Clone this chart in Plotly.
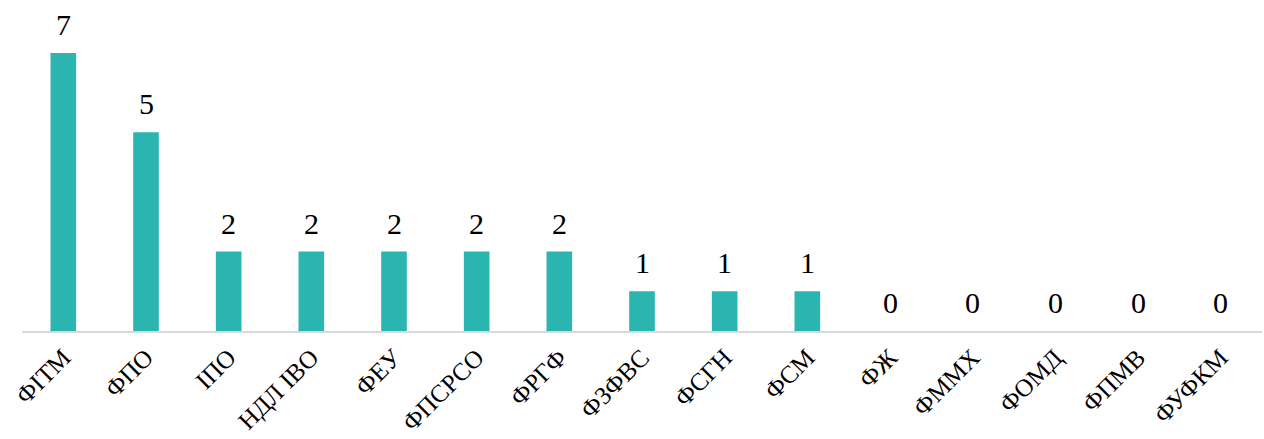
import plotly.graph_objects as go

categories = ["ФІТМ", "ФПО", "ІПО", "НДЛ ІВО", "ФЕУ", "ФПСРСО", "ФРГФ", "ФЗФВС",
              "ФСГН", "ФСМ", "ФЖ", "ФММХ", "ФОМД", "ФПМВ", "ФУФКМ"]
values = [7, 5, 2, 2, 2, 2, 2, 1, 1, 1, 0, 0, 0, 0, 0]

bar_color = "#2BB5B0"
font_family = "Liberation Serif, Times New Roman, serif"

fig = go.Figure(go.Bar(
    x=categories, y=values,
    marker=dict(color=bar_color, line=dict(width=0)),
    width=0.31,
    hoverinfo="skip",
))

for c, v in zip(categories, values):
    fig.add_annotation(x=c, y=v, text=str(v), showarrow=False,
                       yanchor="bottom", yshift=10,
                       font=dict(family=font_family, size=30, color="black"))

fig.update_layout(
    width=1264, height=439,
    margin=dict(l=22, r=2, t=10, b=108),
    plot_bgcolor="white", paper_bgcolor="white",
    showlegend=False,
    xaxis=dict(showline=True, linecolor="#d9d9d9", linewidth=2, ticks="",
               tickangle=-45, tickfont=dict(family=font_family, size=25, color="black"),
               showgrid=False, automargin=False),
    yaxis=dict(range=[0, 8.08], visible=False, showgrid=False, zeroline=False),
)

fig.write_html("out.html", config={"displayModeBar": False},
               post_script="document.body.style.margin='0';")
